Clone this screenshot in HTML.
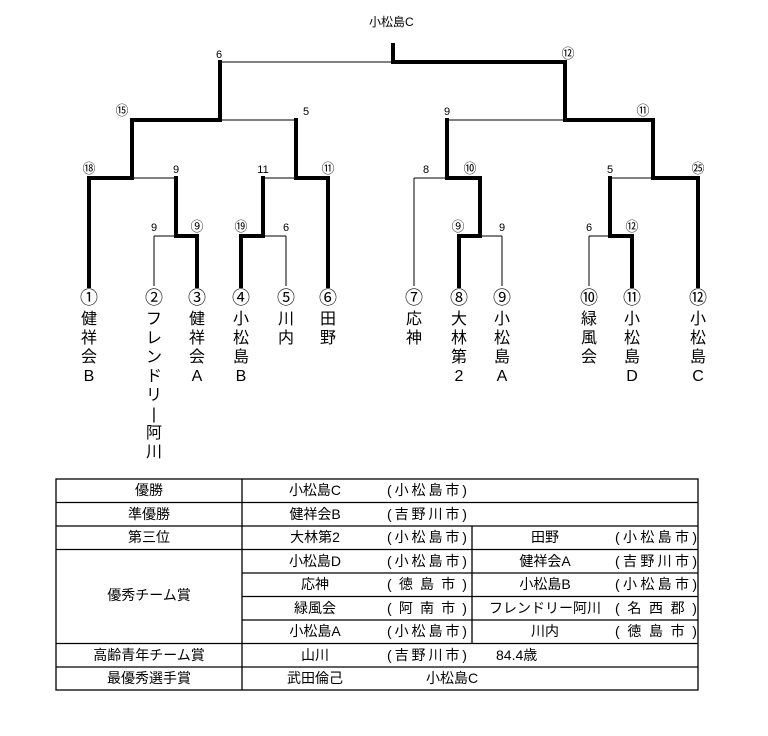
<!DOCTYPE html>
<html><head><meta charset="utf-8"><style>
body{margin:0;background:#fff;width:768px;height:736px;position:relative;overflow:hidden;font-family:"Liberation Sans","Noto Sans CJK JP",sans-serif;color:#000}
svg{position:absolute;left:0;top:0}
.t{position:absolute;font-size:14px;line-height:23px;white-space:nowrap}
.c{text-align:center}
.p{display:flex;justify-content:space-between}
.v{position:absolute;font-size:16px;line-height:19px;width:20px;text-align:center}
.n{position:absolute;font-size:18px;width:24px;text-align:center;line-height:20px}
.s{position:absolute;font-size:11px;width:20px;text-align:center;line-height:12px}
.s.o{font-size:13px}
</style></head><body>
<svg width="768" height="736" stroke="#000" fill="none">
<g stroke-width="1">
<line x1="220" y1="62" x2="393" y2="62"/>
<line x1="220" y1="120" x2="296" y2="120"/>
<line x1="132" y1="178" x2="176" y2="178"/>
<line x1="154" y1="236" x2="176" y2="236"/>
<line x1="154" y1="236" x2="154" y2="286"/>
<line x1="263" y1="236" x2="286" y2="236"/>
<line x1="286" y1="236" x2="286" y2="286"/>
<line x1="263" y1="178" x2="296" y2="178"/>
<line x1="447" y1="120" x2="565" y2="120"/>
<line x1="414" y1="178" x2="447" y2="178"/>
<line x1="414" y1="178" x2="414" y2="286"/>
<line x1="480" y1="236" x2="502" y2="236"/>
<line x1="502" y1="236" x2="502" y2="286"/>
<line x1="589" y1="236" x2="610" y2="236"/>
<line x1="589" y1="236" x2="589" y2="286"/>
<line x1="610" y1="178" x2="653" y2="178"/>
</g>
<g stroke-width="4" stroke-linecap="square">
<polyline points="393,45 393,62 565,62 565,120 653,120 653,178 698,178 698,286"/>
<polyline points="220,62 220,120 132,120 132,178 89,178 89,286"/>
<polyline points="176,178 176,236 197,236 197,286"/>
<polyline points="296,120 296,178 328,178 328,286"/>
<polyline points="263,178 263,236 241,236 241,286"/>
<polyline points="447,120 447,178 480,178 480,236 459,236 459,286"/>
<polyline points="610,178 610,236 632,236 632,286"/>
</g>
</svg>
<div class="t" style="left:369px;top:11px;font-size:12px">小松島C</div>
<div class="s" style="left:209px;top:49px">6</div>
<div class="s o" style="left:558px;top:48px">⑫</div>
<div class="s o" style="left:112px;top:105px">⑮</div>
<div class="s" style="left:296px;top:106px">5</div>
<div class="s" style="left:437px;top:106px">9</div>
<div class="s o" style="left:633px;top:105px">⑪</div>
<div class="s o" style="left:79px;top:163px">⑱</div>
<div class="s" style="left:166px;top:164px">9</div>
<div class="s" style="left:253px;top:164px">11</div>
<div class="s o" style="left:318px;top:163px">⑪</div>
<div class="s" style="left:416px;top:164px">8</div>
<div class="s o" style="left:460px;top:163px">⑩</div>
<div class="s" style="left:600px;top:164px">5</div>
<div class="s o" style="left:688px;top:163px">㉕</div>
<div class="s" style="left:144px;top:222px">9</div>
<div class="s o" style="left:187px;top:221px">⑨</div>
<div class="s o" style="left:231px;top:221px">⑲</div>
<div class="s" style="left:276px;top:222px">6</div>
<div class="s o" style="left:448px;top:221px">⑨</div>
<div class="s" style="left:492px;top:222px">9</div>
<div class="s" style="left:579px;top:222px">6</div>
<div class="s o" style="left:622px;top:221px">⑫</div>

<div class="n" style="left:77px;top:288px">①</div>
<div class="n" style="left:142px;top:288px">②</div>
<div class="n" style="left:185px;top:288px">③</div>
<div class="n" style="left:229px;top:288px">④</div>
<div class="n" style="left:274px;top:288px">⑤</div>
<div class="n" style="left:316px;top:288px">⑥</div>
<div class="n" style="left:402px;top:288px">⑦</div>
<div class="n" style="left:447px;top:288px">⑧</div>
<div class="n" style="left:490px;top:288px">⑨</div>
<div class="n" style="left:577px;top:288px">⑩</div>
<div class="n" style="left:620px;top:288px">⑪</div>
<div class="n" style="left:686px;top:288px">⑫</div>

<div class="v" style="left:79px;top:310px">健<br>祥<br>会<br>B</div>
<div class="v" style="left:144px;top:310px">フ<br>レ<br>ン<br>ド<br>リ<br>|<br>阿<br>川</div>
<div class="v" style="left:187px;top:310px">健<br>祥<br>会<br>A</div>
<div class="v" style="left:231px;top:310px">小<br>松<br>島<br>B</div>
<div class="v" style="left:276px;top:310px">川<br>内</div>
<div class="v" style="left:318px;top:310px">田<br>野</div>
<div class="v" style="left:404px;top:310px">応<br>神</div>
<div class="v" style="left:449px;top:310px">大<br>林<br>第<br>2</div>
<div class="v" style="left:492px;top:310px">小<br>松<br>島<br>A</div>
<div class="v" style="left:579px;top:310px">緑<br>風<br>会</div>
<div class="v" style="left:622px;top:310px">小<br>松<br>島<br>D</div>
<div class="v" style="left:688px;top:310px">小<br>松<br>島<br>C</div>

<svg width="768" height="736" stroke="#000" stroke-width="1.3">
<rect x="56" y="479" width="642" height="211" fill="none"/>
<line x1="242" y1="479" x2="242" y2="690"/>
<line x1="56" y1="502.5" x2="698" y2="502.5"/>
<line x1="56" y1="526" x2="698" y2="526"/>
<line x1="56" y1="549.5" x2="698" y2="549.5"/>
<line x1="242" y1="573" x2="698" y2="573"/>
<line x1="242" y1="596.5" x2="698" y2="596.5"/>
<line x1="242" y1="620" x2="698" y2="620"/>
<line x1="56" y1="643.5" x2="698" y2="643.5"/>
<line x1="56" y1="667" x2="698" y2="667"/>
<line x1="472" y1="526" x2="472" y2="643.5"/>
</svg>

<div class="t c" style="left:56px;width:186px;top:479px">優勝</div>
<div class="t c" style="left:56px;width:186px;top:502.5px">準優勝</div>
<div class="t c" style="left:56px;width:186px;top:526px">第三位</div>
<div class="t c" style="left:56px;width:186px;top:584px">優秀チーム賞</div>
<div class="t c" style="left:56px;width:186px;top:643.5px">高齢青年チーム賞</div>
<div class="t c" style="left:56px;width:186px;top:667px">最優秀選手賞</div>

<div class="t c" style="left:272px;width:86px;top:479px">小松島C</div>
<div class="t c" style="left:272px;width:86px;top:502.5px">健祥会B</div>
<div class="t c" style="left:272px;width:86px;top:526px">大林第2</div>
<div class="t c" style="left:272px;width:86px;top:549.5px">小松島D</div>
<div class="t c" style="left:272px;width:86px;top:573px">応神</div>
<div class="t c" style="left:272px;width:86px;top:596.5px">緑風会</div>
<div class="t c" style="left:272px;width:86px;top:620px">小松島A</div>
<div class="t c" style="left:272px;width:86px;top:643.5px">山川</div>
<div class="t c" style="left:272px;width:86px;top:667px">武田倫己</div>

<div class="t p" style="left:387px;width:80px;top:479px"><span>(</span><span>小</span><span>松</span><span>島</span><span>市</span><span>)</span></div>
<div class="t p" style="left:387px;width:80px;top:502.5px"><span>(</span><span>吉</span><span>野</span><span>川</span><span>市</span><span>)</span></div>
<div class="t p" style="left:387px;width:80px;top:526px"><span>(</span><span>小</span><span>松</span><span>島</span><span>市</span><span>)</span></div>
<div class="t p" style="left:387px;width:80px;top:549.5px"><span>(</span><span>小</span><span>松</span><span>島</span><span>市</span><span>)</span></div>
<div class="t p" style="left:387px;width:80px;top:573px"><span>(</span><span>徳</span><span>島</span><span>市</span><span>)</span></div>
<div class="t p" style="left:387px;width:80px;top:596.5px"><span>(</span><span>阿</span><span>南</span><span>市</span><span>)</span></div>
<div class="t p" style="left:387px;width:80px;top:620px"><span>(</span><span>小</span><span>松</span><span>島</span><span>市</span><span>)</span></div>
<div class="t p" style="left:387px;width:80px;top:643.5px"><span>(</span><span>吉</span><span>野</span><span>川</span><span>市</span><span>)</span></div>
<div class="t" style="left:496px;top:643.5px">84.4歳</div>
<div class="t" style="left:426px;top:667px">小松島C</div>

<div class="t c" style="left:480px;width:130px;top:526px">田野</div>
<div class="t c" style="left:480px;width:130px;top:549.5px">健祥会A</div>
<div class="t c" style="left:480px;width:130px;top:573px">小松島B</div>
<div class="t c" style="left:480px;width:130px;top:596.5px">フレンドリー阿川</div>
<div class="t c" style="left:480px;width:130px;top:620px">川内</div>

<div class="t p" style="left:615px;width:82px;top:526px"><span>(</span><span>小</span><span>松</span><span>島</span><span>市</span><span>)</span></div>
<div class="t p" style="left:615px;width:82px;top:549.5px"><span>(</span><span>吉</span><span>野</span><span>川</span><span>市</span><span>)</span></div>
<div class="t p" style="left:615px;width:82px;top:573px"><span>(</span><span>小</span><span>松</span><span>島</span><span>市</span><span>)</span></div>
<div class="t p" style="left:615px;width:82px;top:596.5px"><span>(</span><span>名</span><span>西</span><span>郡</span><span>)</span></div>
<div class="t p" style="left:615px;width:82px;top:620px"><span>(</span><span>徳</span><span>島</span><span>市</span><span>)</span></div>
</body></html>
